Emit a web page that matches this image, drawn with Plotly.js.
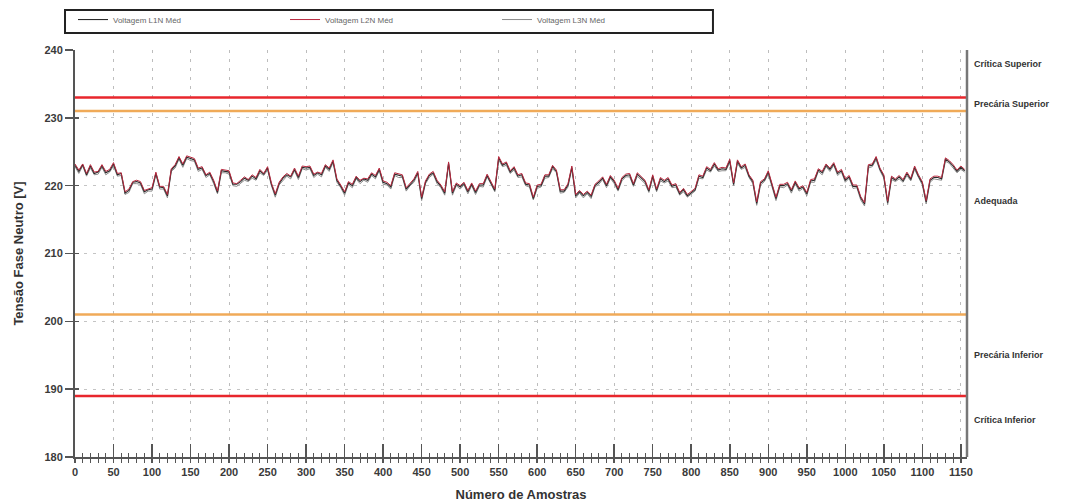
<!DOCTYPE html>
<html>
<head>
<meta charset="utf-8">
<script src="https://cdn.plot.ly/plotly-3.0.1.min.js"></script>
<style>
  html, body { margin: 0; padding: 0; background: #ffffff; }
  #chart { width: 1066px; height: 504px; }
</style>
</head>
<body>
<div id="chart"></div>
<script>
// Sample spacing of the stored series (one value every 5 samples)
const sampleStep = 5;

// Phase-to-neutral voltage, averaged per sample [V]
const voltL1N = [
  223.0,222.1,223.1,221.6,222.9,221.8,222.0,222.9,221.9,222.2,
  223.2,221.6,221.8,218.9,219.3,220.5,220.6,220.4,219.1,219.4,
  219.5,221.8,219.8,219.7,218.5,222.3,222.9,224.1,223.0,224.2,
  224.0,223.8,222.4,222.6,221.5,221.8,220.6,219.0,222.2,222.1,
  222.0,220.2,220.2,220.6,221.1,220.8,221.4,221.0,222.2,221.7,
  222.6,220.2,218.6,220.3,221.1,221.6,221.3,222.4,221.2,222.7,
  222.6,222.7,221.5,221.9,221.6,222.9,222.4,223.6,220.8,219.9,
  218.9,220.4,220.0,221.2,220.6,221.0,220.8,221.7,221.3,222.4,
  220.5,220.3,219.8,221.7,221.5,221.4,219.5,220.2,220.8,221.9,
  218.1,220.5,221.5,221.9,220.6,219.9,218.9,223.3,218.9,220.2,
  219.8,220.3,219.1,220.2,219.0,220.1,220.1,221.5,220.5,219.3,
  224.1,223.0,223.3,222.0,222.6,221.4,221.6,220.2,220.1,218.1,
  219.9,220.0,221.4,221.4,222.8,222.1,219.2,219.2,220.1,222.7,
  218.5,219.1,218.5,219.0,218.4,220.0,220.5,221.1,220.0,221.3,
  220.6,219.4,221.0,221.5,221.6,220.1,221.7,221.1,220.6,219.2,
  221.4,219.3,221.0,220.6,221.0,219.9,220.1,218.8,219.4,218.5,
  219.0,219.4,221.4,221.2,222.6,222.2,223.2,222.3,222.5,222.4,
  223.7,220.2,223.6,222.6,223.0,221.4,220.6,217.4,220.4,220.8,
  222.0,220.0,218.1,220.0,220.0,220.3,219.2,220.5,219.5,219.8,
  218.8,220.7,220.8,222.3,221.9,223.0,222.4,223.2,221.8,222.2,
  220.8,221.3,219.9,219.9,218.2,217.3,222.9,223.0,224.1,222.4,
  221.4,217.5,221.2,220.8,221.3,220.7,221.8,220.9,222.7,221.4,
  220.4,217.6,220.8,221.2,221.2,221.0,223.9,223.5,222.9,222.1,
  222.7,222.2
];
const voltL2N = [
  223.2,222.3,223.2,221.8,223.1,222.0,222.1,223.1,222.1,222.4,
  223.4,221.8,221.9,219.1,219.5,220.6,220.8,220.6,219.3,219.5,
  219.7,222.0,219.9,219.9,218.7,222.5,223.1,224.3,223.2,224.4,
  224.2,224.0,222.6,222.8,221.6,222.0,220.8,219.2,222.4,222.3,
  222.2,220.4,220.3,220.8,221.3,220.9,221.6,221.2,222.4,221.8,
  222.8,220.4,218.8,220.5,221.3,221.8,221.4,222.6,221.4,222.9,
  222.8,222.9,221.7,222.0,221.8,223.1,222.6,223.8,221.0,220.1,
  219.1,220.6,220.2,221.4,220.8,221.1,221.0,221.9,221.5,222.6,
  220.7,220.5,220.0,221.9,221.7,221.6,219.7,220.4,221.0,222.1,
  218.3,220.7,221.7,222.1,220.8,220.1,219.1,223.5,219.1,220.4,
  220.0,220.5,219.3,220.4,219.2,220.3,220.3,221.7,220.7,219.5,
  224.3,223.2,223.5,222.2,222.8,221.6,221.8,220.4,220.3,218.3,
  220.1,220.2,221.6,221.6,223.0,222.3,219.4,219.4,220.3,222.9,
  218.7,219.3,218.7,219.2,218.6,220.2,220.7,221.3,220.2,221.5,
  220.8,219.6,221.2,221.7,221.8,220.3,221.9,221.3,220.8,219.4,
  221.6,219.5,221.2,220.8,221.2,220.1,220.3,219.0,219.6,218.7,
  219.2,219.6,221.6,221.4,222.8,222.4,223.4,222.5,222.7,222.6,
  223.9,220.4,223.8,222.8,223.2,221.6,220.8,217.6,220.6,221.0,
  222.2,220.2,218.3,220.2,220.2,220.5,219.4,220.7,219.7,220.0,
  219.0,220.9,221.0,222.5,222.1,223.2,222.6,223.4,222.0,222.4,
  221.0,221.5,220.1,220.1,218.4,217.5,223.1,223.2,224.3,222.6,
  221.6,217.7,221.4,221.0,221.5,220.9,222.0,221.1,222.9,221.6,
  220.6,217.8,221.0,221.4,221.4,221.2,224.1,223.7,223.1,222.3,
  222.9,222.4
];
const voltL3N = [
  222.8,221.8,222.9,221.4,222.6,221.6,221.7,222.7,221.6,222.0,
  222.9,221.4,221.5,218.7,219.0,220.3,220.3,220.2,218.8,219.2,
  219.2,221.6,219.5,219.5,218.2,222.1,222.6,223.9,222.7,224.0,
  223.7,223.6,222.1,222.4,221.2,221.6,220.3,218.8,221.9,221.9,
  221.7,220.0,219.9,220.4,220.8,220.6,221.1,220.8,221.9,221.5,
  222.3,220.0,218.3,220.1,220.8,221.4,221.0,222.2,220.9,222.5,
  222.3,222.5,221.2,221.7,221.3,222.7,222.1,223.4,220.5,219.7,
  218.6,220.2,219.7,221.0,220.3,220.8,220.5,221.5,221.0,222.2,
  220.2,220.1,219.5,221.5,221.2,221.2,219.2,220.0,220.5,221.7,
  217.8,220.3,221.2,221.7,220.3,219.7,218.6,223.1,218.6,220.0,
  219.5,220.1,218.8,220.0,218.7,219.9,219.8,221.3,220.2,219.1,
  223.8,222.8,223.0,221.8,222.3,221.2,221.3,220.0,219.8,217.9,
  219.6,219.8,221.1,221.2,222.5,221.9,218.9,219.0,219.8,222.5,
  218.2,218.9,218.2,218.8,218.1,219.8,220.2,220.9,219.7,221.1,
  220.3,219.2,220.7,221.3,221.3,219.9,221.4,220.9,220.3,219.0,
  221.1,219.1,220.7,220.4,220.7,219.7,219.8,218.6,219.1,218.3,
  218.7,219.2,221.1,221.0,222.3,222.0,222.9,222.1,222.2,222.2,
  223.4,220.0,223.3,222.4,222.7,221.2,220.3,217.1,220.1,220.6,
  221.7,219.8,217.8,219.8,219.7,220.1,218.9,220.3,219.2,219.6,
  218.5,220.5,220.5,222.1,221.6,222.8,222.1,223.0,221.5,222.0,
  220.5,221.1,219.6,219.7,217.9,217.0,222.6,222.8,223.8,222.2,
  221.1,217.2,220.9,220.6,221.0,220.5,221.5,220.7,222.4,221.2,
  220.1,217.3,220.5,221.0,220.9,220.8,223.6,223.3,222.6,221.9,
  222.4,222.0
];

// Quality limits [V] and their colours
const limitValues = [233, 231, 201, 189];
const limitColors = ['#e8262c', '#f0aa58', '#f0aa58', '#e8262c'];

// Voltage-band labels at the right of the plot
const bandLabels = ['Crítica Superior', 'Precária Superior', 'Adequada', 'Precária Inferior', 'Crítica Inferior'];
const bandLabelY = [237.9, 232.0, 217.8, 195.0, 185.5];

const seriesNames = ['Voltagem L1N Méd', 'Voltagem L2N Méd', 'Voltagem L3N Méd'];
const xRange = [0, 1158];
const yRange = [180, 240];

const samples = voltL1N.map((_, i) => i * sampleStep);

const FONT = 'Liberation Sans, Arial, sans-serif';
const AX = '#555555';

const traces = [
  { x: samples, y: voltL3N, name: seriesNames[2], type: 'scatter', mode: 'lines',
    line: { color: '#8c8c8c', width: 1 }, legendrank: 3, hoverinfo: 'skip' },
  { x: samples, y: voltL1N, name: seriesNames[0], type: 'scatter', mode: 'lines',
    line: { color: '#2a2a2a', width: 1.1 }, legendrank: 1, hoverinfo: 'skip' },
  { x: samples, y: voltL2N, name: seriesNames[1], type: 'scatter', mode: 'lines',
    line: { color: '#b8283e', width: 1 }, legendrank: 2, hoverinfo: 'skip',
    xaxis: 'x2', yaxis: 'y2' }
];

const shapes = limitValues.map((v, i) => ({
  type: 'line', xref: 'paper', x0: 0, x1: 1, yref: 'y', y0: v, y1: v,
  line: { color: limitColors[i], width: 2.5 }, layer: 'above'
}));
// right frame line
shapes.push({ type: 'line', xref: 'paper', x0: 1, x1: 1, yref: 'paper', y0: 0, y1: 1,
  line: { color: '#777777', width: 2.5 } });
// legend frame
shapes.push({ type: 'rect', xref: 'paper', yref: 'paper',
  x0: -0.0112, x1: 0.7152, y0: 1.0418, y1: 1.0983,
  line: { color: '#222222', width: 2 }, fillcolor: '#ffffff' });

const annotations = bandLabels.map((t, i) => ({
  text: t, xref: 'paper', x: 1, xshift: 5, xanchor: 'left',
  yref: 'y', y: bandLabelY[i], yanchor: 'middle', showarrow: false,
  font: { family: FONT, size: 9, color: '#333333', weight: 'bold' }
}));

const tickFont = { family: FONT, size: 11, color: '#3a3a3a', weight: 'bold' };

const layout = {
  width: 1066, height: 504,
  margin: { l: 75, r: 99, t: 50, b: 47 },
  paper_bgcolor: '#ffffff', plot_bgcolor: '#ffffff',
  showlegend: true,
  legend: {
    orientation: 'h',
    xref: 'container', x: 0.0685, xanchor: 'left',
    yref: 'container', y: 0.990, yanchor: 'top',
    borderwidth: 0, bgcolor: 'rgba(0,0,0,0)',
    font: { family: FONT, size: 8, color: '#666666' },
    entrywidth: 167, entrywidthmode: 'pixels', itemwidth: 30,
    traceorder: 'normal'
  },
  xaxis: {
    range: xRange, tick0: 0, dtick: 50, tickmode: 'linear',
    showgrid: true, gridcolor: '#bdbdbd', griddash: '3px,6px', gridwidth: 1,
    zeroline: false, showline: true, linecolor: AX, linewidth: 2,
    ticks: 'outside', ticklen: 4, tickwidth: 1.5, tickcolor: AX,
    minor: { dtick: 10, tick0: 0, ticks: 'outside', ticklen: 4, tickwidth: 1, tickcolor: AX, showgrid: false },
    tickfont: tickFont,
    title: { text: 'Número de Amostras', standoff: 13,
             font: { family: FONT, size: 13, color: '#333333', weight: 'bold' } },
    automargin: false
  },
  xaxis2: {
    overlaying: 'x', matches: 'x', anchor: 'y2', side: 'bottom',
    showgrid: false, zeroline: false, showline: false, showticklabels: false,
    tick0: 0, dtick: 50, tickmode: 'linear',
    ticks: 'inside', ticklen: 13, tickwidth: 1.5, tickcolor: AX,
    minor: { dtick: 10, tick0: 0, ticks: 'inside', ticklen: 4, tickwidth: 1, tickcolor: AX, showgrid: false }
  },
  yaxis: {
    range: yRange, tick0: 180, dtick: 10, tickmode: 'linear',
    showgrid: true, gridcolor: '#c4c4c4', griddash: '3px,6px', gridwidth: 1,
    zeroline: false, showline: true, linecolor: AX, linewidth: 2,
    ticks: 'outside', ticklen: 8, tickwidth: 1.5, tickcolor: AX,
    tickfont: tickFont,
    title: { text: 'Tensão Fase Neutro [V]', standoff: 18,
             font: { family: FONT, size: 13, color: '#333333', weight: 'bold' } },
    automargin: false
  },
  yaxis2: {
    overlaying: 'y', matches: 'y', anchor: 'x2', side: 'left',
    showgrid: false, zeroline: false, showline: false, showticklabels: false,
    tick0: 180, dtick: 10, tickmode: 'linear',
    ticks: 'inside', ticklen: 4, tickwidth: 1.5, tickcolor: AX
  },
  shapes: shapes,
  annotations: annotations
};

Plotly.newPlot('chart', traces, layout, { displayModeBar: false, staticPlot: true });
</script>
</body>
</html>
